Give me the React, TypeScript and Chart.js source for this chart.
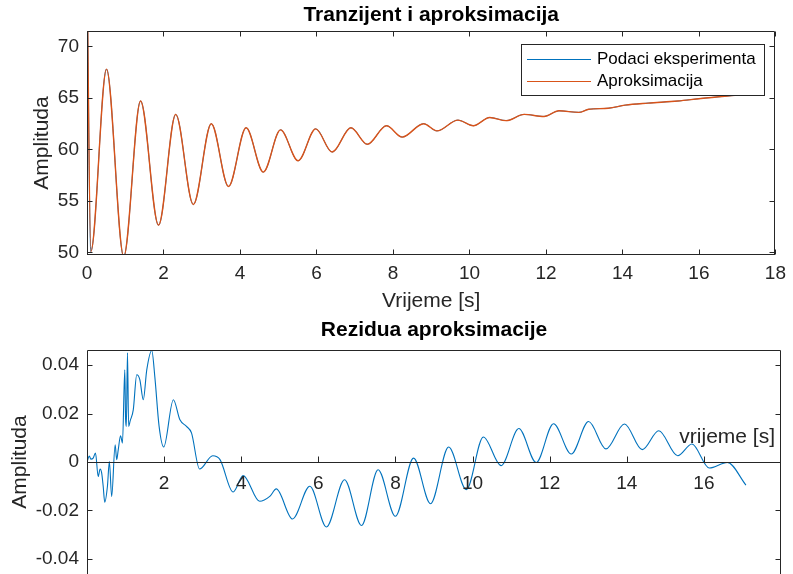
import React, { useEffect, useRef } from 'react';
import { Chart, registerables } from 'chart.js';

Chart.register(...registerables);

const FONT = '"Liberation Sans", Arial, Helvetica, sans-serif';
const INK = '#262626';
const BLUE = '#0072BD';
const ORANGE = '#D95319';

const topTitle = 'Tranzijent i aproksimacija';
const bottomTitle = 'Rezidua aproksimacije';
const xLabelTop = 'Vrijeme [s]';
const xLabelBottom = 'vrijeme [s]';
const yLabel = 'Amplituda';
const legendLabels = ['Podaci eksperimenta', 'Aproksimacija'];

// Top panel: transient (time in s, amplitude)
const timeTop = [0, 0.1, 0.51, 0.96, 1.4, 1.87, 2.32, 2.78, 3.25, 3.7, 4.16, 4.61, 5.06, 5.52, 5.98, 6.41, 6.9, 7.33, 7.83, 8.24, 8.8, 9.15, 9.7, 10.1, 10.53, 10.96, 11.43, 11.95, 12.34, 12.86, 13.12, 13.63, 14.07, 14.67, 15.45, 16.05, 17.09];
const experimentValues = [78, 50.1, 67.8, 49.6, 64.7, 52.65, 63.4, 54.65, 62.5, 56.4, 62.1, 57.8, 61.9, 58.9, 62.0, 59.75, 62.1, 60.5, 62.3, 61.2, 62.5, 61.8, 62.85, 62.3, 63.1, 62.8, 63.4, 63.2, 63.75, 63.6, 63.9, 64.0, 64.3, 64.5, 64.7, 64.95, 65.3];
const approxValues = [78, 50.1, 67.8, 49.6, 64.7, 52.65, 63.4, 54.65, 62.5, 56.4, 62.1, 57.8, 61.9, 58.9, 62.0, 59.75, 62.1, 60.5, 62.3, 61.2, 62.5, 61.8, 62.85, 62.3, 63.1, 62.8, 63.4, 63.2, 63.75, 63.6, 63.9, 64.0, 64.3, 64.5, 64.7, 64.95, 65.3];

// Bottom panel: residual
const timeResidual = [0, 0.06, 0.1, 0.16, 0.22, 0.29, 0.34, 0.38, 0.42, 0.46, 0.53, 0.58, 0.64, 0.73, 0.77, 0.81, 0.87, 0.92, 0.98, 1.0, 1.02, 1.05, 1.08, 1.12, 1.2, 1.29, 1.37, 1.46, 1.55, 1.68, 1.76, 1.87, 1.99, 2.24, 2.41, 2.58, 2.71, 2.92, 3.26, 3.45, 3.79, 4.05, 4.48, 4.74, 4.91, 5.33, 5.78, 6.21, 6.68, 7.12, 7.55, 8.0, 8.47, 8.91, 9.38, 9.84, 10.28, 10.74, 11.2, 11.65, 12.1, 12.56, 13.01, 13.46, 13.94, 14.4, 14.83, 15.32, 15.69, 16.14, 16.61, 17.09];
const residualValues = [0, 0.0025, 0.0012, 0.0016, 0.0037, -0.006, -0.0029, -0.0045, -0.01, -0.0166, -0.01, 0.0002, -0.0142, 0.0071, 0.001, 0.005, 0.0108, 0.0078, 0.038, 0.018, 0.0147, 0.045, 0.0147, 0.017, 0.0215, 0.036, 0.034, 0.0257, 0.038, 0.046, 0.035, 0.0147, 0.0062, 0.0257, 0.0174, 0.0147, 0.012, -0.0029, 0.0026, 0.001, -0.0124, -0.0056, -0.0162, -0.0142, -0.0111, -0.0235, -0.01, -0.0268, -0.0073, -0.0262, -0.0032, -0.0224, 0.0016, -0.0172, 0.0062, -0.0114, 0.0103, -0.0015, 0.0138, -0.0002, 0.0158, 0.0033, 0.0167, 0.0054, 0.0157, 0.0051, 0.0129, 0.0026, 0.0074, -0.0025, -0.0002, -0.0095];

// Ticks
const xTicksTop = [0, 2, 4, 6, 8, 10, 12, 14, 16, 18];
const yTicksTop = [50, 55, 60, 65, 70];
const xTicksBottom = [2, 4, 6, 8, 10, 12, 14, 16];
const yTicksBottom = [-0.04, -0.02, 0, 0.02, 0.04];
const yTickLabelsBottom = ['-0.04', '-0.02', '0', '0.02', '0.04'];

const TICK = 5;

function framePlugin(cfg: { bottomBorder: boolean; xTicks: number[]; topTicks: boolean; origin: boolean }) {
  return {
    id: 'frameAxes',
    afterDatasetsDraw(chart: any) {
      const { ctx, chartArea: a, scales } = chart;
      const xs = scales.x;
      const ys = scales.y;
      const L = Math.round(a.left) + 0.5;
      const R = Math.round(a.right) - 0.5;
      const T = Math.round(a.top) + 0.5;
      const B = Math.round(a.bottom) - 0.5;
      ctx.save();
      ctx.strokeStyle = INK;
      ctx.lineWidth = 1;
      ctx.beginPath();
      ctx.moveTo(L, B + 0.5);
      ctx.lineTo(L, T);
      ctx.lineTo(R, T);
      ctx.lineTo(R, B + 0.5);
      if (cfg.bottomBorder) {
        ctx.moveTo(L, B);
        ctx.lineTo(R, B);
      }
      const yt = ys.ticks.map((t: any) => t.value);
      yt.forEach((v: number) => {
        const py = Math.round(ys.getPixelForValue(v)) + 0.5;
        ctx.moveTo(L, py);
        ctx.lineTo(L + TICK, py);
        ctx.moveTo(R, py);
        ctx.lineTo(R - TICK, py);
      });
      if (!cfg.origin) {
        cfg.xTicks.forEach((v) => {
          const px = Math.round(xs.getPixelForValue(v)) + 0.5;
          ctx.moveTo(px, B);
          ctx.lineTo(px, B - TICK);
          if (cfg.topTicks) {
            ctx.moveTo(px, T);
            ctx.lineTo(px, T + TICK);
          }
        });
      } else {
        const y0 = Math.round(ys.getPixelForValue(0)) + 0.5;
        ctx.moveTo(L, y0);
        ctx.lineTo(R, y0);
        cfg.xTicks.forEach((v) => {
          const px = Math.round(xs.getPixelForValue(v)) + 0.5;
          ctx.moveTo(px, y0);
          ctx.lineTo(px, y0 - TICK - 1);
        });
      }
      ctx.stroke();
      if (cfg.origin) {
        const y0 = ys.getPixelForValue(0);
        ctx.fillStyle = INK;
        ctx.font = `19px ${FONT}`;
        ctx.textAlign = 'center';
        ctx.textBaseline = 'alphabetic';
        cfg.xTicks.forEach((v) => {
          const px = xs.getPixelForValue(v);
          ctx.fillText(String(v), px, y0 + 27);
        });
        ctx.font = `21px ${FONT}`;
        ctx.textAlign = 'right';
        ctx.fillText(xLabelBottom, 775, y0 - 19);
      }
      ctx.restore();
    },
  };
}

const legendBox = {
  id: 'legendBox',
  afterDraw(chart: any) {
    const { ctx } = chart;
    ctx.save();
    ctx.fillStyle = '#ffffff';
    ctx.fillRect(521.5, 44.5, 243, 51);
    ctx.strokeStyle = INK;
    ctx.lineWidth = 1;
    ctx.strokeRect(521.5, 44.5, 243, 51);
    const rows = [
      { y: 59.5, color: BLUE, text: legendLabels[0] },
      { y: 81.5, color: ORANGE, text: legendLabels[1] },
    ];
    ctx.font = `17px ${FONT}`;
    ctx.textAlign = 'left';
    ctx.textBaseline = 'middle';
    rows.forEach((r) => {
      ctx.strokeStyle = r.color;
      ctx.lineWidth = 1.2;
      ctx.beginPath();
      ctx.moveTo(527, r.y);
      ctx.lineTo(591, r.y);
      ctx.stroke();
      ctx.fillStyle = '#000000';
      ctx.fillText(r.text, 597, r.y);
    });
    ctx.restore();
  },
};

function lineDataset(label: string, xs: number[], ys: number[], color: string, order: number, width: number) {
  return {
    label,
    order,
    data: xs.map((x, i) => ({ x, y: ys[i] })),
    borderColor: color,
    backgroundColor: color,
    borderWidth: width,
    pointRadius: 0,
    fill: false,
    cubicInterpolationMode: 'monotone' as const,
  };
}

function noPad(s: any) {
  s.paddingTop = 0;
  s.paddingBottom = 0;
}

function topConfig(): any {
  return {
    type: 'line',
    data: {
      datasets: [
        lineDataset(legendLabels[0], timeTop, experimentValues, BLUE, 1, 0.9),
        lineDataset(legendLabels[1], timeTop, approxValues, ORANGE, 0, 1.4),
      ],
    },
    options: {
      animation: false,
      responsive: false,
      devicePixelRatio: 1,
      events: [],
      layout: { padding: { left: 0, right: 12, top: 0, bottom: 0 } },
      plugins: {
        legend: { display: false },
        tooltip: { enabled: false },
        title: {
          display: true,
          text: topTitle,
          fullSize: false,
          color: '#000000',
          font: { family: FONT, size: 21, weight: 'bold', lineHeight: 1.2 },
          padding: { top: 3, bottom: 2.8 },
        },
      },
      scales: {
        x: {
          type: 'linear',
          min: 0,
          max: 18,
          afterBuildTicks: (s: any) => {
            s.ticks = xTicksTop.map((v) => ({ value: v }));
          },
          afterFit: (s: any) => {
            s.height = 63;
          },
          grid: { display: false, drawTicks: false },
          border: { display: false },
          ticks: {
            autoSkip: false,
            maxRotation: 0,
            padding: 7,
            color: INK,
            font: { family: FONT, size: 19 },
            callback: (v: number) => String(v),
          },
          title: {
            display: true,
            text: xLabelTop,
            color: INK,
            font: { family: FONT, size: 21, lineHeight: 1.2 },
            padding: { top: 0, bottom: 4 },
          },
        },
        y: {
          type: 'linear',
          min: 49.75,
          max: 71.5,
          afterBuildTicks: (s: any) => {
            s.ticks = yTicksTop.map((v) => ({ value: v }));
          },
          afterFit: (s: any) => {
            s.width = 87;
            noPad(s);
          },
          grid: { display: false, drawTicks: false },
          border: { display: false },
          ticks: {
            padding: 8,
            color: INK,
            font: { family: FONT, size: 19 },
            callback: (v: number) => String(v),
          },
          title: {
            display: true,
            text: yLabel,
            color: INK,
            font: { family: FONT, size: 21, lineHeight: 1.2 },
            padding: { top: 30, bottom: 0 },
          },
        },
      },
    },
    plugins: [framePlugin({ bottomBorder: true, xTicks: xTicksTop, topTicks: true, origin: false }), legendBox],
  };
}

function bottomConfig(): any {
  return {
    type: 'line',
    data: {
      datasets: [lineDataset('Rezidua', timeResidual, residualValues, BLUE, 0, 1.1)],
    },
    options: {
      animation: false,
      responsive: false,
      devicePixelRatio: 1,
      events: [],
      layout: { padding: { left: 0, right: 12, top: 0, bottom: 0 } },
      plugins: {
        legend: { display: false },
        tooltip: { enabled: false },
        title: {
          display: true,
          text: bottomTitle,
          fullSize: false,
          color: '#000000',
          font: { family: FONT, size: 21, weight: 'bold', lineHeight: 1.2 },
          padding: { top: 0, bottom: 6.8 },
        },
      },
      scales: {
        x: {
          type: 'linear',
          min: 0,
          max: 18,
          display: false,
        },
        y: {
          type: 'linear',
          min: -0.0462,
          max: 0.0462,
          afterBuildTicks: (s: any) => {
            s.ticks = yTicksBottom.map((v) => ({ value: v }));
          },
          afterFit: (s: any) => {
            s.width = 87;
            noPad(s);
          },
          grid: { display: false, drawTicks: false },
          border: { display: false },
          ticks: {
            padding: 8,
            color: INK,
            font: { family: FONT, size: 19 },
            callback: (v: number) => {
              const i = yTicksBottom.findIndex((t) => Math.abs(t - v) < 1e-9);
              return i >= 0 ? yTickLabelsBottom[i] : '';
            },
          },
          title: {
            display: true,
            text: yLabel,
            color: INK,
            font: { family: FONT, size: 21, lineHeight: 1.2 },
            padding: { top: 8, bottom: 0 },
          },
        },
      },
    },
    plugins: [framePlugin({ bottomBorder: false, xTicks: xTicksBottom, topTicks: false, origin: true })],
  };
}

export default function App() {
  const topRef = useRef<HTMLCanvasElement>(null);
  const botRef = useRef<HTMLCanvasElement>(null);

  useEffect(() => {
    const c1 = new Chart(topRef.current as HTMLCanvasElement, topConfig());
    const c2 = new Chart(botRef.current as HTMLCanvasElement, bottomConfig());
    return () => {
      c1.destroy();
      c2.destroy();
    };
  }, []);

  return (
    <div
      style={{
        position: 'fixed',
        left: 0,
        top: 0,
        width: 793,
        height: 574,
        background: '#ffffff',
        overflow: 'hidden',
      }}
    >
      <canvas
        ref={topRef}
        width={793}
        height={318}
        style={{ position: 'absolute', left: 0, top: 0, width: 793, height: 318 }}
      />
      <canvas
        ref={botRef}
        width={793}
        height={256}
        style={{ position: 'absolute', left: 0, top: 318, width: 793, height: 256 }}
      />
    </div>
  );
}
